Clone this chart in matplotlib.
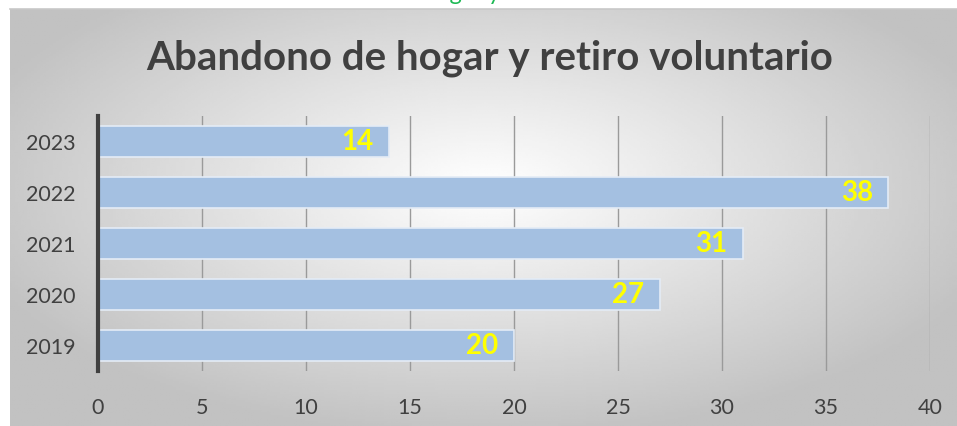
import numpy as np
import matplotlib.pyplot as plt

# Data
years = ['2019', '2020', '2021', '2022', '2023']
values = [20, 27, 31, 38, 14]
x_ticks = [0, 5, 10, 15, 20, 25, 30, 35, 40]

title = "Abandono de hogar y retiro voluntario"

fig = plt.figure(figsize=(9.57, 4.27), dpi=100)

# background panel with radial gradient
W, H = 957, 427
bg = fig.add_axes([10 / W, 0, 1 - 10 / W, 1 - 10 / H])
yy, xx = np.mgrid[0:200, 0:300]
cx, cy = 150, 85
r = np.sqrt(((xx - cx) / 170) ** 2 + ((yy - cy) / 120) ** 2)
shade = np.clip(1 - 0.24 * r, 0.76, 1)
bg.imshow(shade, cmap='gray', vmin=0, vmax=1, aspect='auto', extent=[0, 1, 0, 1], origin='upper')
bg.set_axis_off()

# top border line
fig.add_artist(plt.Line2D([10 / W, 1], [1 - 10 / H, 1 - 10 / H], color='#c8c8c8', lw=1.2))

# green text cut off at the top (only the descenders show)
fig.text(0.482, 0.999, "hogar y", color='#1db954', fontsize=17, ha='center', va='baseline',
         family='Lato')

ax = fig.add_axes([98 / W, 1 - 372 / H, (930 - 98) / W, (372 - 117) / H])
ax.patch.set_alpha(0)

ypos = np.arange(len(years))
ax.barh(ypos, values, height=0.6, color='#a4c0e1', edgecolor='#e4ecf6', linewidth=1.2, zorder=3)

for y, v in zip(ypos, values):
    ax.text(v - 0.75, y, str(v), color='#ffff00', fontsize=20, fontweight='bold',
            ha='right', va='center', family='Lato', zorder=4)

ax.set_xlim(0, 40)
ax.set_ylim(-0.5, 4.5)
ax.set_xticks(x_ticks)
ax.set_yticks(ypos)
ax.set_yticklabels(years)
ax.grid(axis='x', color='#9a9a9a', linewidth=1, zorder=0)
for s in ['top', 'right', 'bottom']:
    ax.spines[s].set_visible(False)
ax.spines['left'].set_color('#404040')
ax.spines['left'].set_linewidth(3)
ax.spines['left'].set_zorder(5)
ax.tick_params(axis='both', length=0, labelsize=15.5, labelcolor='#404040')
ax.tick_params(axis='x', pad=19)
ax.tick_params(axis='y', pad=16)
for lab in ax.get_xticklabels() + ax.get_yticklabels():
    lab.set_family('Lato')

fig.text(0.512, 1 - 58 / H, title, fontsize=29, fontweight='bold', color='#404040',
         ha='center', va='center', family='Lato')

fig.savefig('out.png', dpi=100)
